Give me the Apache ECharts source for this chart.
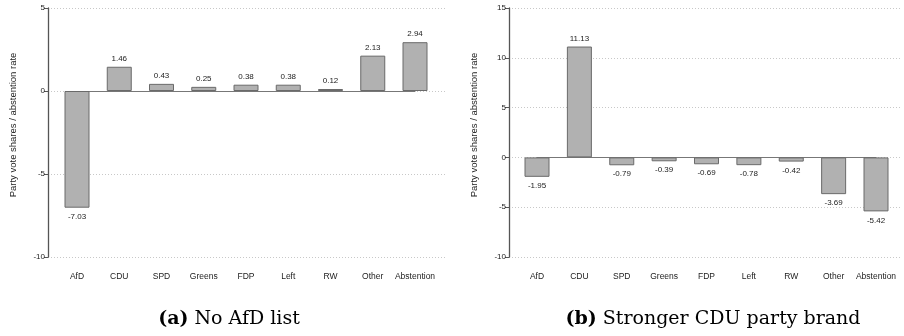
<!DOCTYPE html>
<html><head><meta charset="utf-8">
<script src="https://cdn.jsdelivr.net/npm/echarts@6/dist/echarts.min.js"></script>
<style>html,body{margin:0;padding:0;background:#fff}#c{width:904px;height:336px}</style>
</head><body><div id="c"></div>
<script>
const categories = ['AfD','CDU','SPD','Greens','FDP','Left','RW','Other','Abstention'];
const valuesA = [-7.03, 1.46, 0.43, 0.25, 0.38, 0.38, 0.12, 2.13, 2.94];
const valuesB = [-1.95, 11.13, -0.79, -0.39, -0.69, -0.78, -0.42, -3.69, -5.42];
const yRangeA = [-10, 5];
const yRangeB = [-10, 15];
const yName = 'Party vote shares / abstention rate';
const captionA = ['(a)', 'No AfD list'];
const captionB = ['(b)', 'Stronger CDU party brand'];

const FONT = '"Liberation Sans", Arial, sans-serif';
const SERIF = '"DejaVu Serif", "Liberation Serif", serif';
const TOP = 8, H = 249;

function axisY(gi, rng, show) {
  return {
    type: 'value', gridIndex: gi, min: rng[0], max: rng[1], interval: 5,
    show: show,
    name: show ? yName : '', nameLocation: 'middle', nameGap: 30,
    nameTextStyle: { fontFamily: FONT, fontSize: 9.5, color: '#222', padding: [0, 0, 0, 15] },
    axisLine: { show: true, lineStyle: { color: '#555', width: 1.3 } },
    axisTick: { show: true, length: 4, lineStyle: { color: '#555', width: 1 } },
    axisLabel: { fontFamily: FONT, fontSize: 8, color: '#222', margin: 3 },
    splitLine: { show: true, lineStyle: { color: '#c8c8c8', type: [1, 2], width: 1 } }
  };
}
function axisXHidden(gi) {
  return { type: 'value', gridIndex: gi, show: false, min: 0, max: 1 };
}
function axisXCat(gi) {
  return {
    type: 'category', gridIndex: gi, data: categories, boundaryGap: false,
    position: 'bottom', offset: 11,
    axisLine: { show: true, lineStyle: { color: '#777', width: 1 } },
    axisTick: { show: false },
    axisLabel: { fontFamily: FONT, fontSize: 8.5, color: '#222', margin: 4, interval: 0 },
    splitLine: { show: false }
  };
}
function barData(vals) {
  return vals.map(v => ({
    value: v,
    label: { position: v < 0 ? 'bottom' : 'top', distance: v < 0 ? 5 : 4 }
  }));
}
function barSeries(xi, yi, vals) {
  return {
    type: 'bar', xAxisIndex: xi, yAxisIndex: yi, data: barData(vals),
    barWidth: 25, clip: false, silent: true,
    itemStyle: { color: '#b1b1b1', borderColor: '#6a6a6a', borderWidth: 1 },
    label: { show: true, fontFamily: FONT, fontSize: 8, color: '#222',
      formatter: p => p.value.toFixed(2) }
  };
}
function caption(parts, cx) {
  return {
    text: '{b|' + parts[0] + '}{n| ' + parts[1] + '}',
    left: cx, top: 305, textAlign: 'center',
    textStyle: {
      fontWeight: 'normal', fontFamily: SERIF, fontSize: 19,
      rich: {
        b: { fontFamily: SERIF, fontWeight: 'bold', fontSize: 19, color: '#000' },
        n: { fontFamily: SERIF, fontWeight: 'normal', fontSize: 19, color: '#000' }
      }
    }
  };
}

const chart = echarts.init(document.getElementById('c'), null, { renderer: 'canvas' });
chart.setOption({
  animation: false,
  backgroundColor: '#fff',
  title: [caption(captionA, 224), caption(captionB, 708)],
  grid: [
    { left: 48, top: TOP, width: 397, height: H },
    { left: 77, top: TOP, width: 338, height: H },
    { left: 509, top: TOP, width: 391, height: H },
    { left: 537, top: TOP, width: 339, height: H }
  ],
  xAxis: [axisXHidden(0), axisXCat(1), axisXHidden(2), axisXCat(3)],
  yAxis: [axisY(0, yRangeA, true), axisY(1, yRangeA, false), axisY(2, yRangeB, true), axisY(3, yRangeB, false)],
  series: [barSeries(1, 1, valuesA), barSeries(3, 3, valuesB)]
});
</script></body></html>
